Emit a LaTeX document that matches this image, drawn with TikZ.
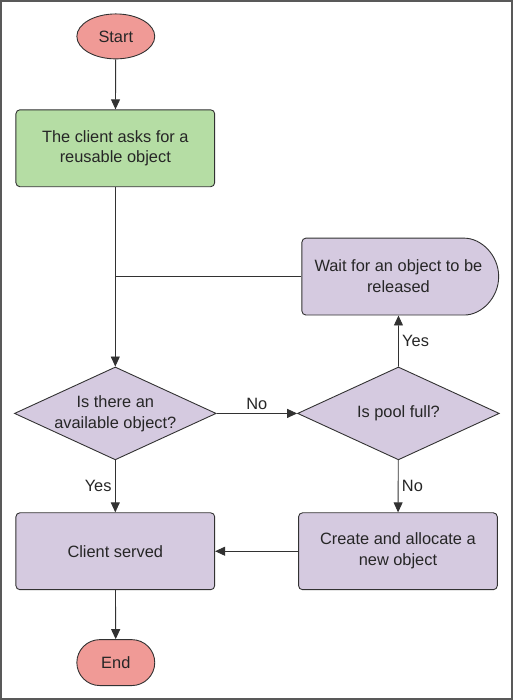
\documentclass[tikz,border=0pt]{standalone}
\usepackage{fontspec}
\setmainfont{Liberation Sans}
\usetikzlibrary{arrows.meta, shapes, positioning}

\definecolor{termfill}{RGB}{240,154,150}
\definecolor{askfill}{RGB}{181,221,164}
\definecolor{stepfill}{RGB}{213,202,224}
\definecolor{linecol}{RGB}{50,50,50}

\begin{document}
\begin{tikzpicture}[x=1pt, y=-1pt, >={Triangle[length=10pt,width=9pt]},
        every node/.style={font=\fontsize{16.4}{21}\selectfont, text=black!85, align=center},
        every path/.style={draw=linecol, line width=0.9pt},
        term/.style={ellipse, draw, fill=termfill, minimum width=78pt, minimum height=45pt, inner sep=0pt},
        stop/.style={rounded rectangle, draw, fill=termfill, minimum width=78pt, minimum height=46pt, inner sep=0pt},
        task/.style={rectangle, rounded corners=4pt, draw, fill=stepfill, minimum width=199pt, minimum height=77pt, inner sep=0pt},
        waitbox/.style={rounded rectangle, rounded rectangle west arc=none, rounded corners=4pt, draw, fill=stepfill, minimum width=197pt, minimum height=77pt, inner sep=0pt},
        choice/.style={diamond, draw, fill=stepfill, aspect=2.17, minimum width=202pt, minimum height=93pt, inner sep=0pt}]
        \useasboundingbox (0,0) rectangle (513,700);
        \draw[draw=black!65, line width=2pt] (1,1) rectangle (512,699);

        \node[term] (start) at (115.5,36) {Start};
        \node[task, fill=askfill] (ask) at (115,148) {The client asks for a\\reusable object};
        \node[waitbox] (wait) at (398.5,276.5) {Wait for an object to be\\released};
        \node[choice] (avail) at (115,413.5) {Is there an\\available object?};
        \node[choice] (full) at (398.5,413.5) {Is pool full?};
        \node[task] (served) at (115,551.5) {Client served};
        \node[task] (create) at (398,551.5) {Create and allocate a\\new object};
        \node[stop] (end) at (115.5,663) {End};

          \path[->] (start) edge (ask)
                    (ask) edge (avail)
                    (avail) edge node[above] {No} (full)
                            edge node[left] {Yes} (served)
                    (full) edge node[right] {Yes} (wait)
                           edge node[right] {No} (create)
                    (create) edge (served)
                    (served) edge (end);
          \draw (wait.west) -- (wait.west -| ask.south);
    \end{tikzpicture}
\end{document}
